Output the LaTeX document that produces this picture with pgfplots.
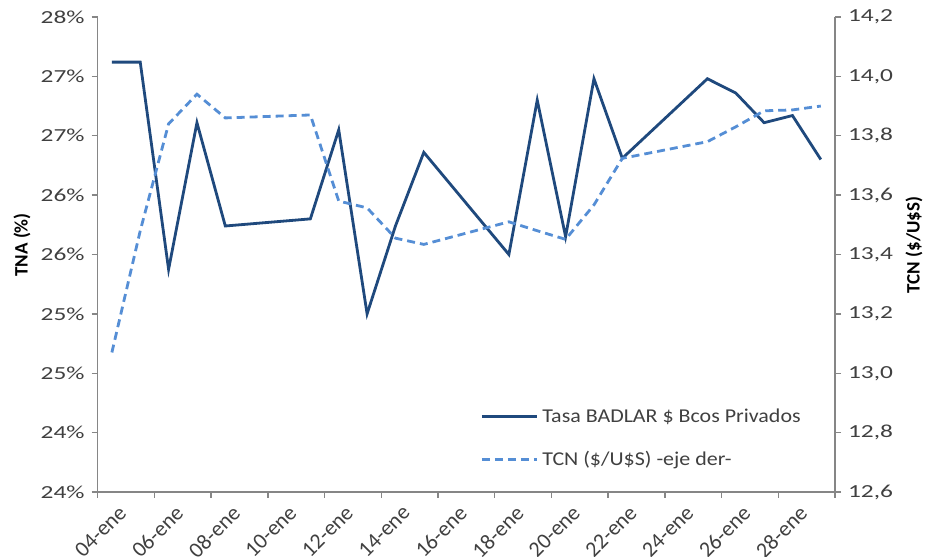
\documentclass[border=0pt]{standalone}
\usepackage{pgfplots}
\pgfplotsset{compat=1.18}
\usepackage{fontspec}
\setmainfont{Carlito}
\newfontfamily\tickfont[FakeStretch=1.38]{Carlito}
\newfontfamily\legfont[FakeStretch=1.12]{Carlito}

\definecolor{badlar}{RGB}{31,73,125}
\definecolor{tcn}{RGB}{85,142,213}
\definecolor{axisgray}{RGB}{134,134,134}
\definecolor{txt}{RGB}{64,64,64}

\pgfplotsset{
  base/.style={
    scale only axis, width=368.65pt, height=237.5pt,
    xmin=4, xmax=30,
    axis line style={axisgray, line width=0.7pt},
    tick style={axisgray, line width=0.7pt},
    tick align=outside,
    major tick length=3pt,
    yticklabel style={font=\tickfont\fontsize{9.2}{11}\selectfont, text=txt},
    label style={font=\fontsize{9.5}{11}\selectfont\bfseries, text=black},
  },
  legend image code/.code={\draw[#1] (0pt,0pt) -- (27.5pt,0pt);},
}

\begin{document}
\begin{tikzpicture}
\useasboundingbox (-48.85pt,-32.5pt) rectangle (414.65pt,246pt);

\begin{axis}[base,
  axis x line*=bottom, axis y line*=left,
  ymin=24, ymax=28,
  ytick={24,24.5,25,25.5,26,26.5,27,27.5,28},
  yticklabels={24\%,24\%,25\%,25\%,26\%,26\%,27\%,27\%,28\%},
  xtick={4,6,8,10,12,14,16,18,20,22,24,26,28,30},
  xticklabels={04-ene,06-ene,08-ene,10-ene,12-ene,14-ene,16-ene,18-ene,20-ene,22-ene,24-ene,26-ene,28-ene,{}},
  xticklabel style={font=\fontsize{11}{13}\selectfont, text=txt, rotate=45, anchor=north east, inner sep=1pt, xshift=6pt, yshift=-8pt},
  ylabel={TNA (\%)},
  ylabel style={at={(axis description cs:-0.1027,0.52)}, anchor=center},
]
\addplot[badlar, line width=1.4pt] coordinates {
  (4.5,27.62) (5.5,27.62) (6.5,25.875) (7.5,27.11) (8.5,26.24)
  (11.5,26.30) (12.5,27.05) (13.5,25.50) (14.5,26.24) (15.5,26.86)
  (18.5,26.00) (19.5,27.30) (20.5,26.15) (21.5,27.48) (22.5,26.81)
  (25.5,27.48) (26.5,27.36) (27.5,27.11) (28.5,27.17) (29.5,26.80)
};
\end{axis}

\begin{axis}[base,
  axis x line=none, axis y line*=right,
  ymin=12.6, ymax=14.2,
  ytick={12.6,12.8,13.0,13.2,13.4,13.6,13.8,14.0,14.2},
  yticklabels={{12,6},{12,8},{13,0},{13,2},{13,4},{13,6},{13,8},{14,0},{14,2}},
  ylabel={TCN (\$/U\$S)},
  ylabel style={at={(axis description cs:1.107,0.52)}, anchor=center},
  legend style={draw=none, fill=none, at={(axis description cs:0.739,0.1126)},
    anchor=center, row sep=9pt, font=\legfont\fontsize{9.8}{11}\selectfont, text=txt,
    inner sep=0pt, /tikz/every even column/.append style={column sep=0pt}},
  legend cell align=left,
]
\addlegendimage{badlar, line width=1.4pt}
\addlegendentry{Tasa BADLAR \$ Bcos Privados}
\addplot[tcn, line width=1.4pt, dash pattern=on 4pt off 2.5pt] coordinates {
  (4.5,13.07) (5.5,13.48) (6.5,13.84) (7.5,13.94) (8.5,13.86)
  (11.5,13.87) (12.5,13.58) (13.5,13.557) (14.5,13.455) (15.5,13.434)
  (18.5,13.51) (19.5,13.48) (20.5,13.451) (21.5,13.567) (22.5,13.724)
  (25.5,13.78) (26.5,13.83) (27.5,13.884) (28.5,13.887) (29.5,13.90)
};
\addlegendentry{TCN (\$/U\$S) -eje der-}
\end{axis}
\end{tikzpicture}
\end{document}
